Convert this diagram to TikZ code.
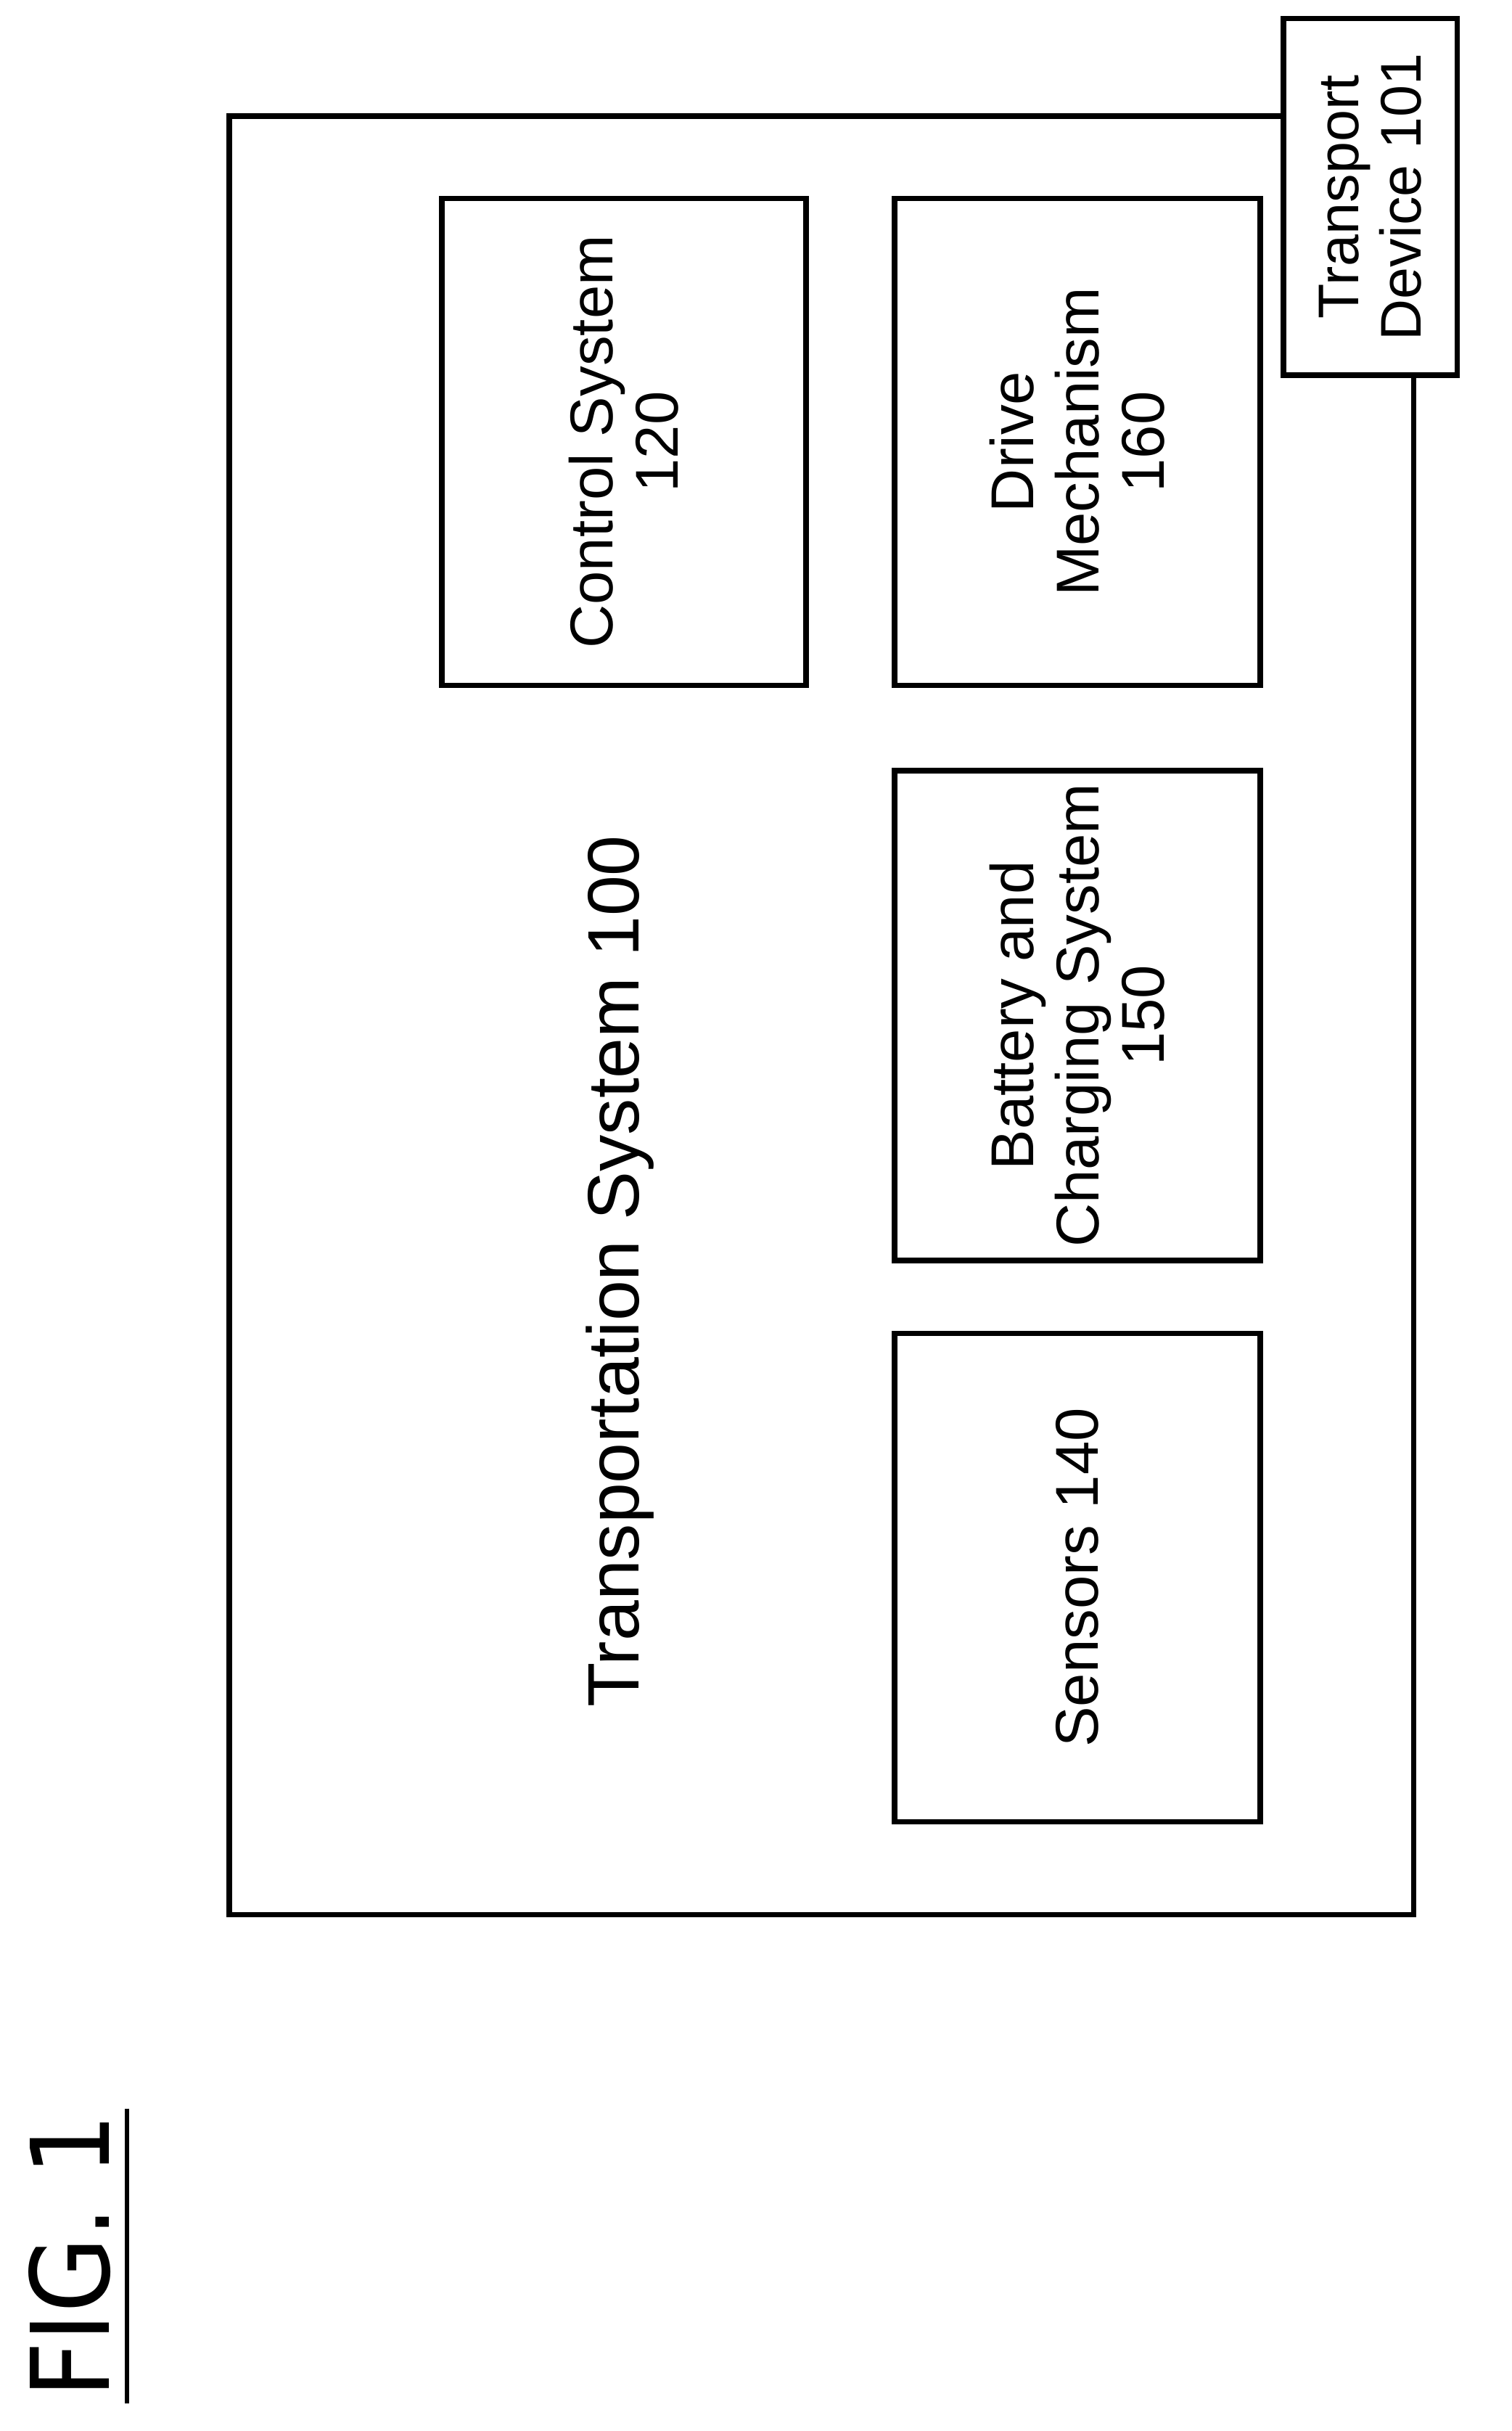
\documentclass[tikz,border=0pt]{standalone}
\usepackage{fontspec}
\setmainfont{Liberation Sans}
\newfontfamily\figfont{DejaVu Sans}[FakeStretch=0.9]
\begin{document}
\begin{tikzpicture}[x=1pt,y=-1pt,
  box/.style={draw,line width=3.5pt},
  lbl/.style={rotate=90,align=center,font=\fontsize{39}{42}\selectfont}]
\useasboundingbox (0,0) rectangle (975,1568);
\draw[box] (148,75) rectangle (912,1235);
\node[box,fill=white,minimum width=112pt,minimum height=230pt,inner sep=0pt] (td) at (884,127) {};
\node[lbl,font=\fontsize{37}{40}\selectfont] (tdt) at (td.center) {Transport\\Device 101};
\node[lbl,font=\fontsize{47}{50}\selectfont] (ts) at (400,820) {Transportation System 100};
\node[box,minimum width=235pt,minimum height=314pt,inner sep=0pt] (cs) at (402.5,285) {};
\node[lbl] at (cs.center) {Control System\\120};
\node[box,minimum width=236pt,minimum height=314pt,inner sep=0pt] (dm) at (695,285) {};
\node[lbl] at (dm.center) {Drive\\Mechanism\\160};
\node[box,minimum width=236pt,minimum height=316pt,inner sep=0pt] (bc) at (695,655) {};
\node[lbl] at (bc.center) {Battery and\\Charging System\\150};
\node[box,minimum width=236pt,minimum height=315pt,inner sep=0pt] (se) at (695,1017.5) {};
\node[lbl] at (se.center) {Sensors 140};
\node[rotate=90,font=\figfont\fontsize{70}{80}\selectfont,inner sep=0pt] (fig) at (45,1455) {FIG. 1};
\draw[line width=3pt] (82,1360) -- (82,1550);
\end{tikzpicture}
\end{document}
